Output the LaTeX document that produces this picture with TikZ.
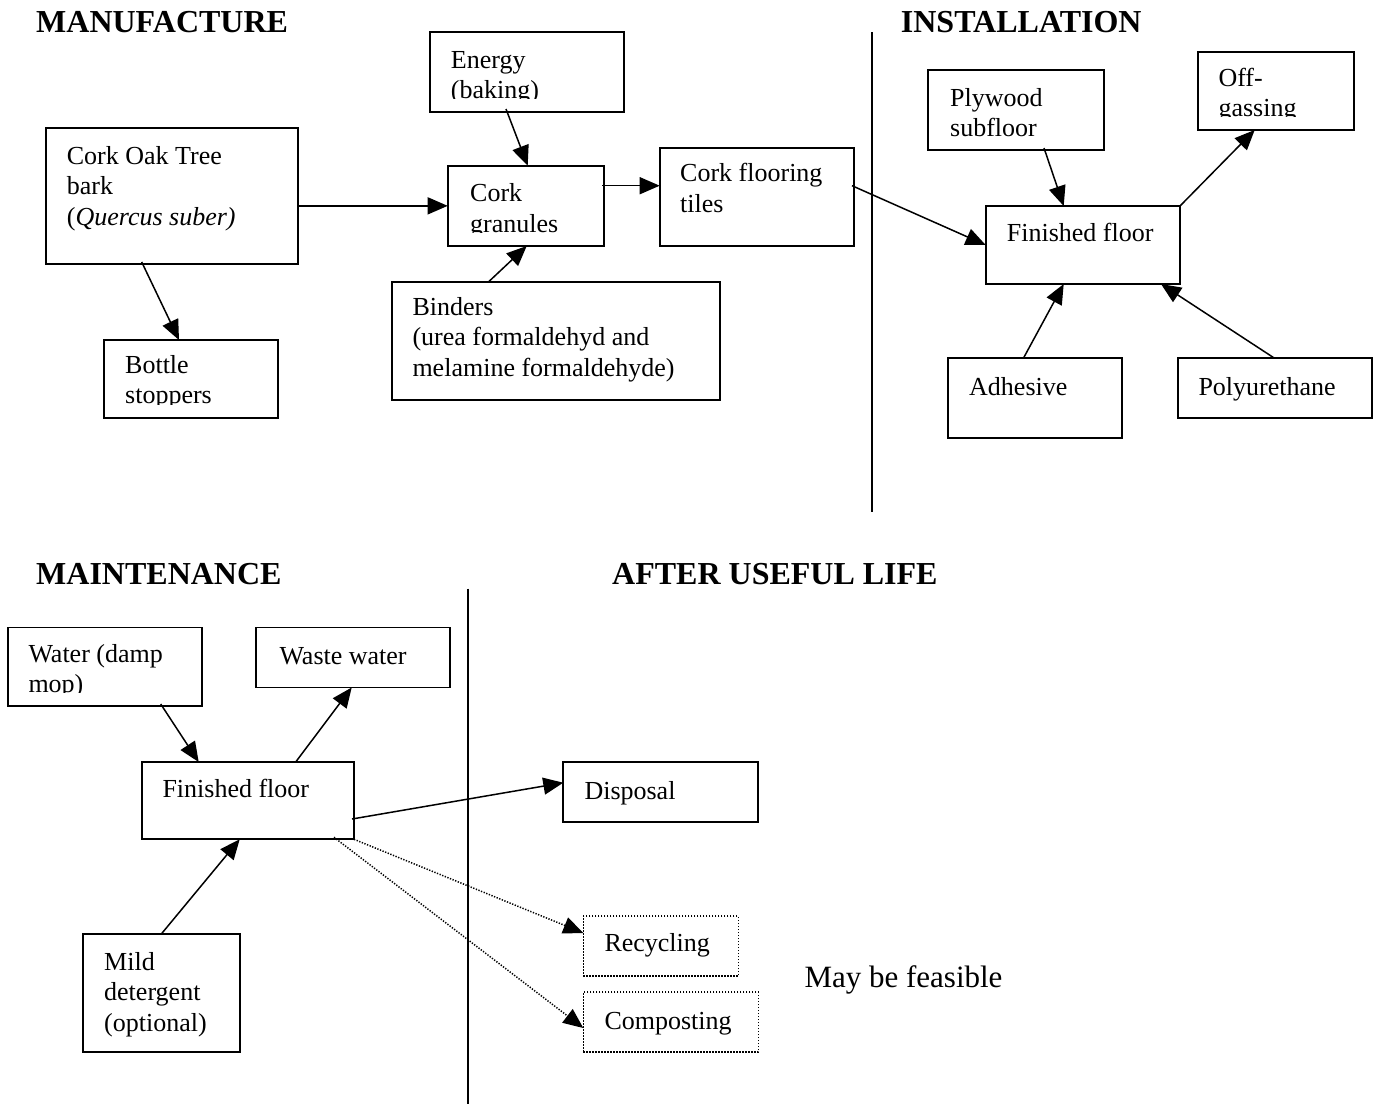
\documentclass[tikz,border=0pt]{standalone}
\usepackage{fontspec}
\setmainfont{Liberation Serif}
\usetikzlibrary{arrows.meta,calc}
\newcommand\lines[1]{\begin{tabular}[t]{@{}l@{}}#1\end{tabular}}
\newcommand\mybox[9]{%
  \node[box,#9,minimum width={#4-#2},minimum height={#5-#3}] (#1) at (#2,#3) {};
  \begin{scope}
    \clip (#2,#3) rectangle (#4,#5-14);
    \node[txt] (#1t) at (#6,#7) {\lines{#8}};
  \end{scope}}
\tikzset{
  box/.style={draw,rectangle,line width=1.7pt,anchor=north west,inner sep=0pt,outer sep=0pt},
  dotbox/.style={dash pattern=on 1.5pt off 1.5pt,line width=1.5pt},
  txt/.style={anchor=base west,inner sep=0pt,font=\fontsize{26}{30.5}\selectfont},
  head/.style={anchor=base west,inner sep=0pt,font=\fontsize{32}{36}\selectfont\bfseries},
  arr/.style={line width=1.5pt,-{Triangle[length=20pt,width=17pt]}},
  dotarr/.style={arr,dash pattern=on 1.3pt off 1.5pt},
  divider/.style={line width=1.9pt}
}
\begin{document}
\begin{tikzpicture}[x=1pt,y=-1pt]
\fill[white] (0,0) rectangle (1379,1104);
\useasboundingbox (0,0) rectangle (1379,1104);

% headings
\node[head] (hmanu) at (36,32) {MANUFACTURE};
\node[head] (hinst) at (900.7,32) {INSTALLATION};
\node[head] (hmaint) at (36,584) {MAINTENANCE};
\node[head] (hafter) at (612,584) {AFTER USEFUL LIFE};

% dividers
\coordinate (d1t) at (871.7,32);
\coordinate (d1b) at (871.7,512);
\draw[divider] (d1t) -- (d1b);
\coordinate (d2t) at (468.3,588.6);
\coordinate (d2b) at (468.3,1104);
\draw[divider] (d2t) -- (d2b);

% manufacture
\mybox{energy}{430}{32}{624}{112}{450.7}{68}{Energy\\(baking)}{}
\mybox{oak}{45.7}{127.7}{297.7}{264}{66.7}{164}{Cork Oak Tree\\bark\\(\textit{Quercus suber)}}{}
\mybox{gran}{447.7}{165.7}{604}{246}{470}{201.7}{Cork\\granules}{}
\mybox{tiles}{659.7}{147.7}{854}{246}{680}{181.7}{Cork flooring\\tiles}{}
\mybox{binders}{391.7}{281.7}{720}{400}{412.3}{315}{Binders\\(urea formaldehyd and\\melamine formaldehyde)}{}
\mybox{bottle}{104}{340}{278}{418}{125}{373}{Bottle\\stoppers}{}

% installation
\mybox{ply}{928}{70}{1104}{150}{950}{106}{Plywood\\subfloor}{}
\mybox{off}{1197.7}{52}{1354}{130}{1218.3}{86}{Off-\\gassing}{}
\mybox{ff}{985.7}{206}{1180}{284}{1006.7}{241.7}{Finished floor}{}
\mybox{adh}{947.7}{357.7}{1121.7}{437.7}{969}{395.7}{Adhesive}{}
\mybox{poly}{1177.7}{357.7}{1372.3}{417.7}{1198.3}{395.7}{Polyurethane}{}

% maintenance
\mybox{water}{7.7}{627.4}{202}{706}{28.3}{662}{Water (damp\\mop)}{}
\mybox{waste}{255.7}{627.4}{450}{687.5}{279.3}{664}{Waste water}{}
\mybox{mff}{141.7}{762}{354}{839.3}{162.3}{797}{Finished floor}{}
\mybox{mild}{83.3}{934}{240}{1052}{104}{970}{Mild\\detergent\\(optional)}{}

% after useful life
\mybox{disp}{563.3}{761.7}{758.3}{821.7}{584.3}{799}{Disposal}{}
\mybox{recy}{583.3}{916}{738.3}{976}{604.3}{951.7}{Recycling}{dotbox}
\mybox{comp}{583.3}{992}{758.3}{1052}{604.3}{1029.3}{Composting}{dotbox}
\node[anchor=base west,inner sep=0pt,font=\fontsize{31}{36}\selectfont] (may) at (804.3,987.3) {May be feasible};

% connectors
\draw[arr] (oak.east |- gran.west) -- (gran.west);
\draw[arr] ($(energy.south west)+(76,-3)$) -- ($(gran.north west)+(80,0)$);
\draw[arr] ($(binders.north west)+(97,0)$) -- ($(gran.south west)+(79,0)$);
\draw[arr] ($(gran.north east)+(-2,20)$) -- ($(tiles.north west)+(0,38)$);
\draw[arr] ($(oak.south west)+(96,-2)$) -- ($(bottle.north west)+(75,0)$);
\draw[arr] ($(tiles.north east)+(-2,38)$) -- (ff.west);
\draw[arr] ($(ply.south west)+(116,-2)$) -- ($(ff.north west)+(78,0)$);
\draw[arr] (ff.north east) -- ($(off.south west)+(57,0)$);
\draw[arr] ($(adh.north west)+(76,0)$) -- ($(ff.south west)+(78,0)$);
\draw[arr] ($(poly.north west)+(96,0)$) -- ($(ff.south east)+(-19,0)$);
\draw[arr] ($(water.south west)+(153,-2)$) -- ($(mff.north west)+(57,0)$);
\draw[arr] ($(mff.north west)+(154,0)$) -- ($(waste.south west)+(96,0)$);
\draw[arr] ($(mild.north west)+(78,0)$) -- ($(mff.south west)+(98,0)$);
\draw[arr] ($(mff.north east)+(-2,57)$) -- ($(disp.north west)+(0,21)$);
\draw[dotarr] (mff.south east) -- ($(recy.north west)+(0,17)$);
\draw[dotarr] ($(mff.south east)+(-20,-2)$) -- ($(comp.north west)+(0,36)$);
\end{tikzpicture}
\end{document}
